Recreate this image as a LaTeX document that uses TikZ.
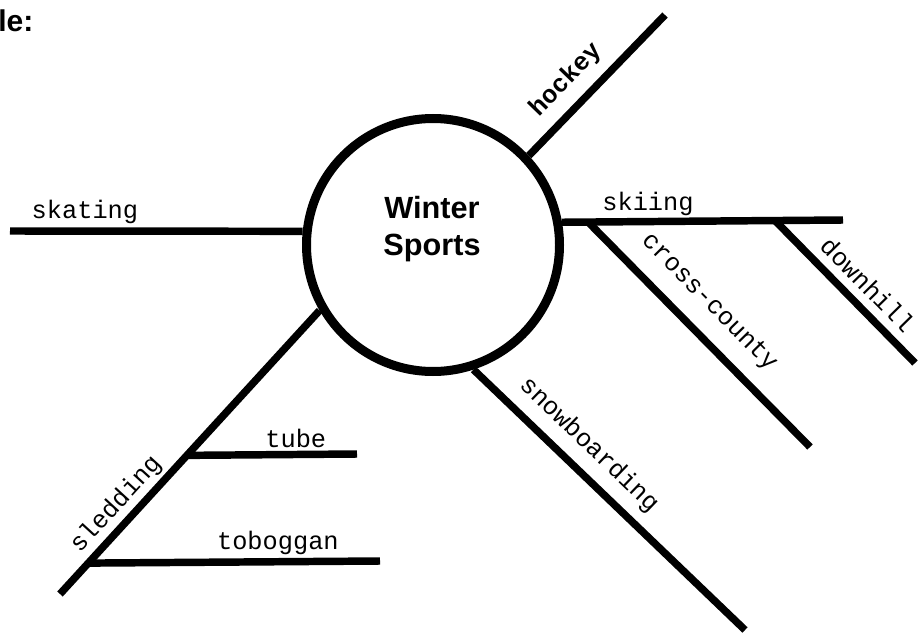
\documentclass[tikz,border=0pt]{standalone}
\usepackage{fontspec}
\setmainfont{Liberation Sans}
\newfontfamily\labelfont{Liberation Mono}
\usetikzlibrary{calc}

\begin{document}
\begin{tikzpicture}[
  x=0.75pt,y=-0.75pt,
  hub/.style={draw,circle,line width=6.75pt,minimum size=189.75pt,inner sep=0pt},
  spoke/.style={line width=5.6pt},
  word/.style={font=\labelfont\fontsize{19}{22}\selectfont,inner sep=0pt},
  boldword/.style={font=\labelfont\bfseries\fontsize{19}{22}\selectfont,inner sep=0pt},
  title/.style={font=\bfseries\fontsize{23}{27.75}\selectfont,align=center,inner sep=0pt},
]
\useasboundingbox (0,0) rectangle (918,635);

%% ── Cut-off heading ──────────────────────────────────────────────────────
\node[font=\bfseries\fontsize{22.5}{26}\selectfont,anchor=base west,inner sep=0pt]
  (cue) at (-2,32) {le:};

%% ── Central topic ────────────────────────────────────────────────────────
\node[hub] (hub) at (433,245) {};
\node[title] (topic) at (432,229) {Winter\\Sports};

%% ── Free ends ────────────────────────────────────────────────────────────
\coordinate (hockeyEnd) at (665,15);
\coordinate (skateEnd)  at (10,231);
\coordinate (skiEnd)    at (843,220);
\coordinate (snowEnd)   at (745,630);
\coordinate (sledEnd)   at (60,594);

%% ── Main spokes ──────────────────────────────────────────────────────────
\draw[spoke] (hub.43) -- (hockeyEnd)
  node[boldword,pos=0.41,sloped,above=8pt] {hockey};
\draw[spoke] (hub.174) -- (skateEnd)
  node[word,pos=0.744,above=3pt] {skating};
\draw[spoke] (hub.10) -- (skiEnd)
  node[word,pos=0.306,above=1.5pt] {skiing};
\draw[spoke] (hub.-72) -- (snowEnd)
  node[word,pos=0.36,sloped,above=7.5pt] {snowboarding};
\draw[spoke] (hub.210) -- (sledEnd)
  node[word,pos=0.73,sloped,above=2.5pt] {sledding};

%% ── Skiing branches ──────────────────────────────────────────────────────
\coordinate (crossRoot) at ($(hub.10)!0.093!(skiEnd)$);
\coordinate (downRoot)  at ($(hub.10)!0.758!(skiEnd)$);
\coordinate (crossEnd)  at (810,447);
\coordinate (downEnd)   at (915,363);
\draw[spoke] (crossRoot) -- (crossEnd)
  node[word,pos=0.45,sloped,above=11pt] {cross-county};
\draw[spoke] (downRoot) -- (downEnd)
  node[word,pos=0.555,sloped,above=6pt] {downhill};

%% ── Sledding branches ────────────────────────────────────────────────────
\coordinate (tubeRoot)  at ($(hub.210)!0.511!(sledEnd)$);
\coordinate (tobogRoot) at ($(hub.210)!0.891!(sledEnd)$);
\coordinate (tubeEnd)   at (357,454);
\coordinate (tobogEnd)  at (380,561);
\draw[spoke] (tubeRoot) -- (tubeEnd)
  node[word,pos=0.64,above=2pt] {tube};
\draw[spoke] (tobogRoot) -- (tobogEnd)
  node[word,pos=0.65,above=2.5pt] {toboggan};

\end{tikzpicture}
\end{document}
